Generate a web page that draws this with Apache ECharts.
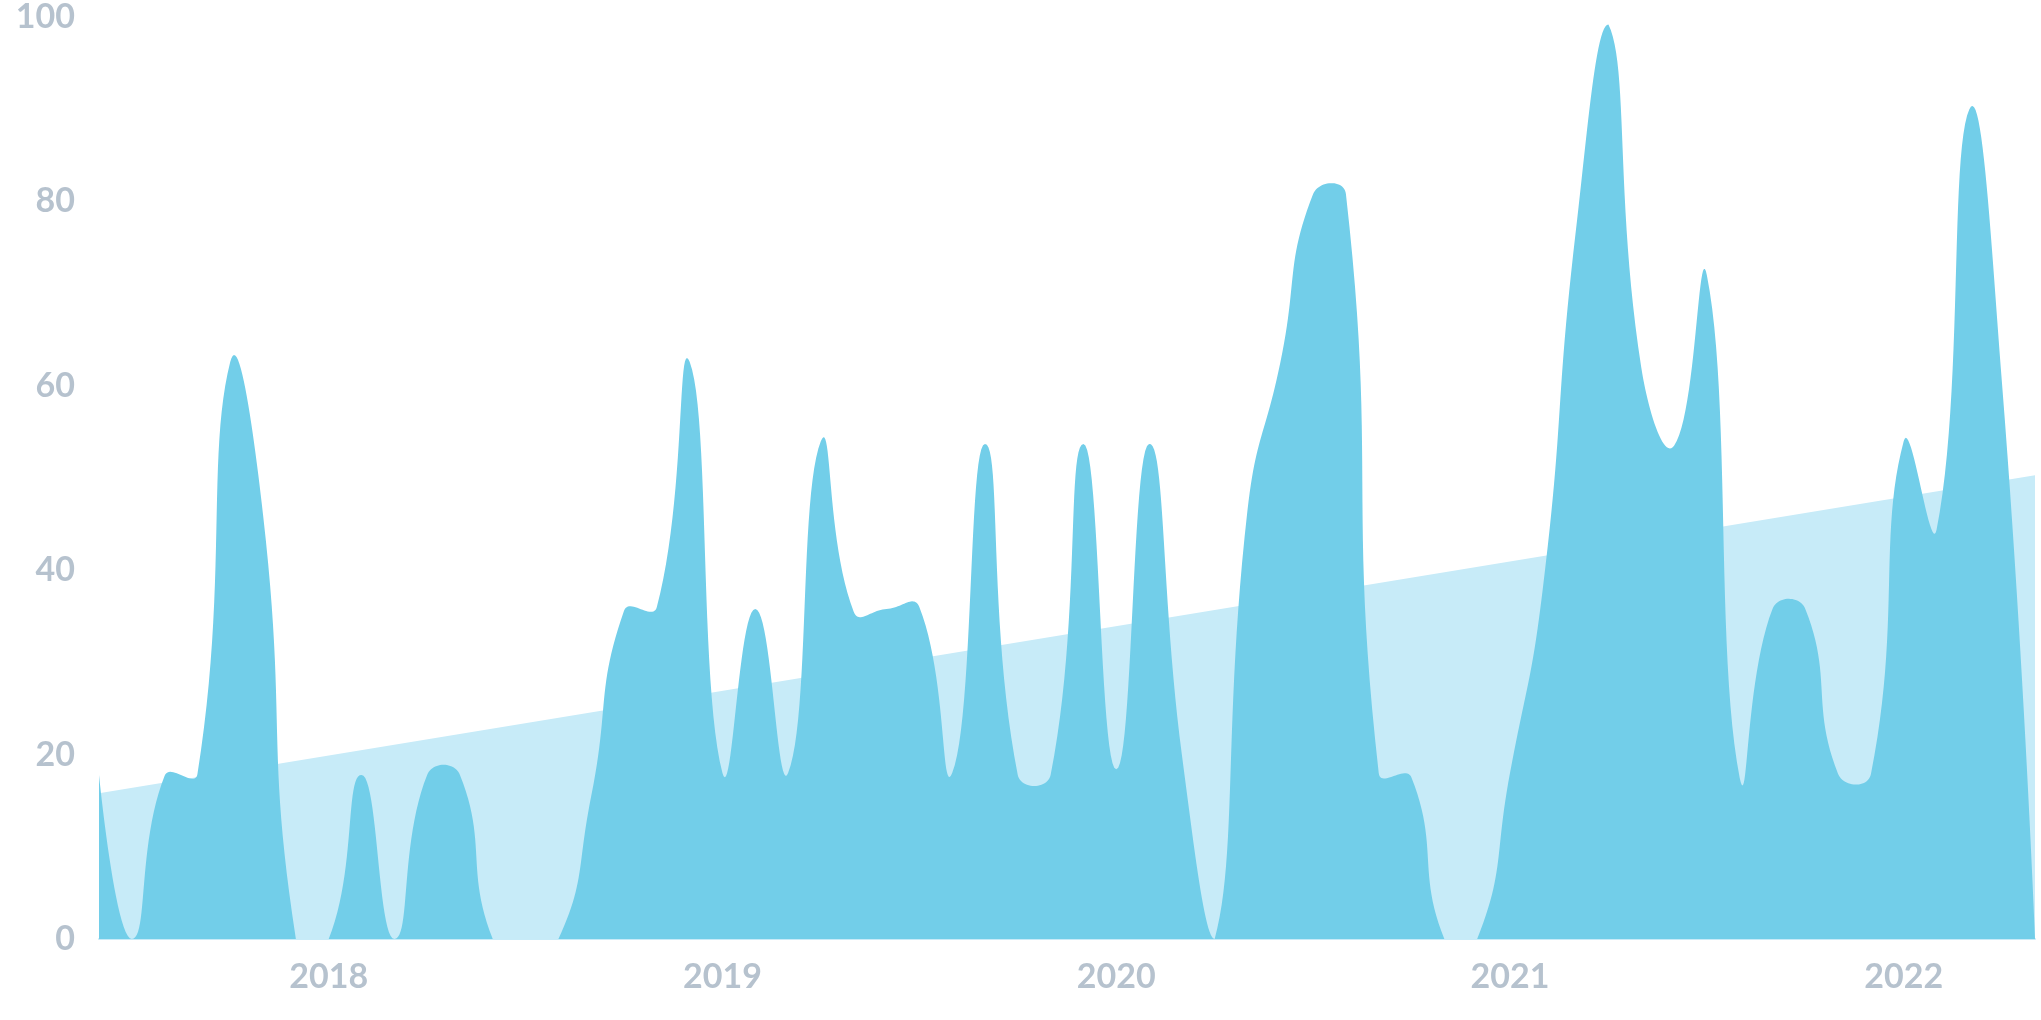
<!DOCTYPE html>
<html>
<head>
<meta charset="utf-8">
<script src="https://cdn.jsdelivr.net/npm/echarts@6/dist/echarts.min.js"></script>
<style>
html,body{margin:0;padding:0;background:#ffffff;}
#chart{width:2041px;height:1020px;}
</style>
</head>
<body>
<div id="chart"></div>
<script>
// Monthly categories, June 2017 – May 2022
var months = [
  '2017-06','2017-07','2017-08','2017-09','2017-10','2017-11','2017-12',
  '2018-01','2018-02','2018-03','2018-04','2018-05','2018-06','2018-07','2018-08','2018-09','2018-10','2018-11','2018-12',
  '2019-01','2019-02','2019-03','2019-04','2019-05','2019-06','2019-07','2019-08','2019-09','2019-10','2019-11','2019-12',
  '2020-01','2020-02','2020-03','2020-04','2020-05','2020-06','2020-07','2020-08','2020-09','2020-10','2020-11','2020-12',
  '2021-01','2021-02','2021-03','2021-04','2021-05','2021-06','2021-07','2021-08','2021-09','2021-10','2021-11','2021-12',
  '2022-01','2022-02','2022-03','2022-04','2022-05'
];
// Main series values
var values = [
  17.8, 0, 17.7, 17.9, 62.6, 46, 0,
  0, 17.8, 0, 17.8, 17.8, 0, 0, 0, 15.5, 35.6, 36.0, 62.6,
  18.0, 35.8, 18.0, 54.0, 35.5, 35.8, 36.0, 18.0, 53.7, 17.8, 17.8, 53.7,
  18.4, 53.7, 20, 0, 46.5, 62.5, 80.8, 80.8, 18.0, 17.5, 0, 0,
  18, 38, 76.6, 99.2, 62, 53.5, 72.0, 17.5, 35.8, 35.8, 17.9, 17.9,
  54.0, 44.4, 90.0, 60, 0
];
// Trend line end points
var trendPoints = [['2017-06', 15.8], ['2022-05', 50.3]];
// Tick labels
var yTicks = [0, 20, 40, 60, 80, 100];
var yearTicks = ['2018','2019','2020','2021','2022'];

var SMOOTH = 0.5;
var STEPS = 24;

function renderArea(params, api) {
  if (params.dataIndexInside !== 0) return;
  var n = params.dataInsideLength;
  var pts = [];
  for (var j = 0; j < n; j++) {
    pts.push(api.coord([api.value(0, j), api.value(1, j)]));
  }
  var baseY = api.coord([api.value(0, 0), 0])[1];
  var minX = pts[0][0], maxX = pts[n - 1][0];
  var minY = baseY, maxY = baseY;
  pts.forEach(function (p) { minY = Math.min(minY, p[1]); maxY = Math.max(maxY, p[1]); });
  function clamp(c) {
    return [Math.min(Math.max(c[0], minX), maxX), Math.min(Math.max(c[1], minY), maxY)];
  }
  function dist(a, b) { return Math.sqrt((a[0] - b[0]) * (a[0] - b[0]) + (a[1] - b[1]) * (a[1] - b[1])); }
  var poly = [[pts[0][0], baseY], [pts[0][0], pts[0][1]]];
  var cp0 = [pts[0][0], pts[0][1]];
  for (var k = 1; k < n; k++) {
    var p = pts[k], prev = pts[k - 1], next = pts[k + 1];
    var cp1, ratio = 0.5, v = [0, 0];
    if (next) {
      v = [next[0] - prev[0], next[1] - prev[1]];
      var lp = dist(p, prev), ln = dist(p, next);
      ratio = (lp + ln) > 0 ? ln / (lp + ln) : 0.5;
      cp1 = [p[0] - v[0] * SMOOTH * (1 - ratio), p[1] - v[1] * SMOOTH * (1 - ratio)];
    } else {
      cp1 = [p[0], p[1]];
    }
    var c0 = clamp(cp0), c1 = clamp(cp1);
    for (var s = 1; s <= STEPS; s++) {
      var t = s / STEPS, u = 1 - t;
      var a = u * u * u, b = 3 * u * u * t, c = 3 * u * t * t, d = t * t * t;
      poly.push([
        a * prev[0] + b * c0[0] + c * c1[0] + d * p[0],
        a * prev[1] + b * c0[1] + c * c1[1] + d * p[1]
      ]);
    }
    cp0 = [p[0] + v[0] * SMOOTH * ratio, p[1] + v[1] * SMOOTH * ratio];
  }
  poly.push([pts[n - 1][0], baseY]);
  return {
    type: 'polygon',
    shape: {points: poly},
    style: {fill: '#72cee9', stroke: null}
  };
}

var chart = echarts.init(document.getElementById('chart'));
var labelStyle = {
  color: '#b6c2ce',
  fontFamily: 'Lato',
  fontWeight: 'bold',
  fontSize: 34
};
chart.setOption({
  animation: false,
  grid: {left: 99, right: 6, top: 17, bottom: 81, containLabel: false},
  xAxis: {
    type: 'category',
    data: months,
    boundaryGap: false,
    axisLine: {show: true, lineStyle: {color: '#c8ebf8', width: 2}},
    axisTick: {show: false},
    splitLine: {show: false},
    axisLabel: Object.assign({
      margin: 21,
      interval: function (idx, v) { return yearTicks.indexOf(v.slice(0, 4)) >= 0 && v.slice(5) === '01'; },
      formatter: function (v) { return v.slice(5) === '01' ? v.slice(0, 4) : ''; }
    }, labelStyle)
  },
  yAxis: {
    type: 'value',
    min: yTicks[0],
    max: yTicks[yTicks.length - 1],
    interval: 20,
    axisLine: {show: false},
    axisTick: {show: false},
    splitLine: {show: false},
    axisLabel: Object.assign({margin: 24}, labelStyle)
  },
  series: [
    {
      type: 'line',
      data: trendPoints,
      symbol: 'none',
      lineStyle: {width: 0},
      areaStyle: {color: '#c7ebf8', opacity: 1},
      z: 1
    },
    {
      type: 'custom',
      data: months.map(function (m, i) { return [m, values[i]]; }),
      encode: {x: 0, y: 1},
      renderItem: renderArea,
      z: 2
    }
  ]
});
</script>
</body>
</html>
